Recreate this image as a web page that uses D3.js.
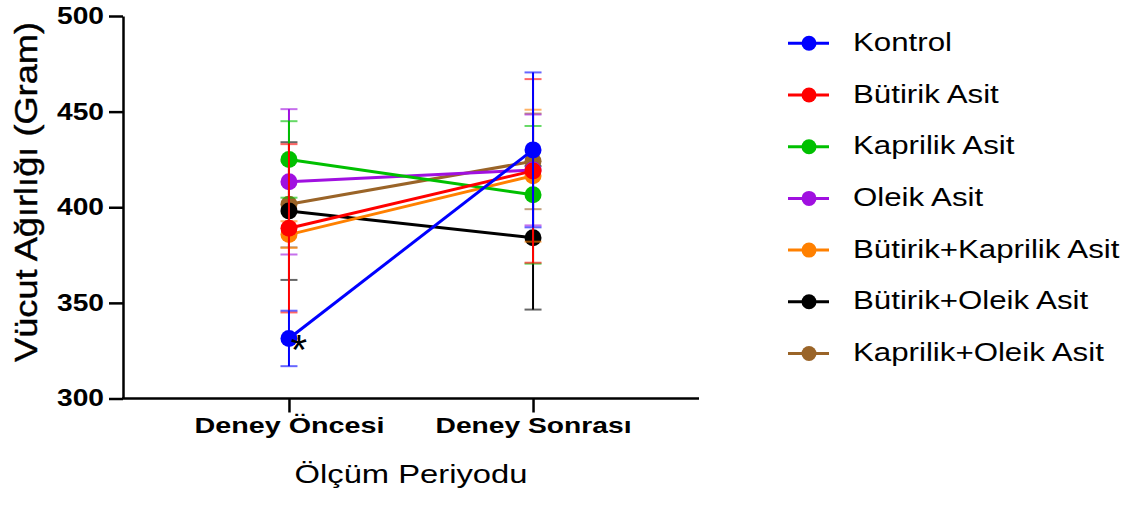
<!DOCTYPE html>
<html>
<head>
<meta charset="utf-8">
<script src="https://cdn.jsdelivr.net/npm/d3@7"></script>
<style>
  body { margin: 0; background: #fff; }
  text { font-family: 'Liberation Sans', Arial, sans-serif; fill: #000; }
</style>
</head>
<body>
<svg id="chart" width="1138" height="508"></svg>
<script>
var categories = ['Deney Öncesi', 'Deney Sonrası']
var groups = ['Kontrol', 'Bütirik Asit', 'Kaprilik Asit', 'Oleik Asit',
  'Bütirik+Kaprilik Asit', 'Bütirik+Oleik Asit', 'Kaprilik+Oleik Asit']
var colors = ['#0000ff', '#ff0000', '#00c000', '#a010e0', '#ff8000', '#000000', '#9a6428']
var means = [
  [331.4, 430],
  [389, 419],
  [425, 406.5],
  [413.3, 419.5],
  [385.7, 416.5],
  [398, 384],
  [401.6, 424]
]
var sds = [
  [14.5, 40.5],
  [44, 48],
  [20, 36],
  [38, 29],
  [7, 34.5],
  [36, 37.5],
  [22.5, 25]
]
var yTicks = [300, 350, 400, 450, 500]

var svg = d3.select('#chart')

var x = d3.scalePoint()
    .domain(categories)
    .range([123, 699])
    .padding(0.68)

var y = d3.scaleLinear()
    .domain([300, 500])
    .range([398.5, 16])

// axes
var yAxis = svg.append('g')
    .attr('transform', 'translate(123,0)')
    .call(d3.axisLeft(y).tickValues(yTicks).tickSize(14).tickPadding(5).tickSizeOuter(0))
yAxis.select('.domain').attr('stroke-width', 2.5)
yAxis.selectAll('.tick line').attr('stroke-width', 2.5)
yAxis.selectAll('.tick text')
    .attr('font-size', 23)
    .attr('font-weight', 'bold')
    .attr('textLength', 47)
    .attr('lengthAdjust', 'spacingAndGlyphs')
    .attr('font-family', "'Liberation Sans', Arial, sans-serif")

var xAxis = svg.append('g')
    .attr('transform', 'translate(0,398.5)')
    .call(d3.axisBottom(x).tickSize(14).tickSizeOuter(0))
xAxis.select('.domain').attr('stroke-width', 2.5)
    .attr('d', 'M122,0H699')
xAxis.selectAll('.tick line').attr('stroke-width', 2.5)
xAxis.selectAll('.tick text')
    .attr('y', 34.5)
    .attr('dy', 0)
    .attr('font-size', 22)
    .attr('font-weight', 'bold')
    .attr('textLength', function (d, i) { return i === 0 ? 190 : 196 })
    .attr('lengthAdjust', 'spacingAndGlyphs')
    .attr('font-family', "'Liberation Sans', Arial, sans-serif")

svg.append('text')
    .attr('x', 411)
    .attr('y', 483)
    .attr('text-anchor', 'middle')
    .attr('font-size', 25)
    .attr('textLength', 233)
    .attr('lengthAdjust', 'spacingAndGlyphs')
    .text('Ölçüm Periyodu')

svg.append('text')
    .attr('transform', 'translate(37,192) rotate(-90)')
    .attr('text-anchor', 'middle')
    .attr('font-size', 32)
    .attr('textLength', 340)
    .attr('lengthAdjust', 'spacingAndGlyphs')
    .style('stroke', '#000')
    .style('stroke-width', 0.4)
    .text('Vücut Ağırlığı (Gram)')

// series, drawn last-to-first so Kontrol sits on top
var line = d3.line()
    .x(function (d, i) { return x(categories[i]) })
    .y(function (d) { return y(d) })

var order = d3.range(groups.length).reverse()
order.forEach(function (s) {
  var g = svg.append('g')
  var c = colors[s]
  means[s].forEach(function (m, i) {
    var cx = x(categories[i])
    var lo = y(m - sds[s][i])
    var hi = y(m + sds[s][i])
    g.append('line')
        .attr('x1', cx).attr('x2', cx)
        .attr('y1', lo).attr('y2', hi)
        .attr('stroke', c)
        .attr('stroke-width', 2)
    ;[lo, hi].forEach(function (yy) {
      g.append('line')
          .attr('x1', cx - 8.5).attr('x2', cx + 8.5)
          .attr('y1', yy).attr('y2', yy)
          .attr('stroke', c)
          .attr('stroke-opacity', 0.6)
          .attr('stroke-width', 2)
    })
  })
  g.append('path')
      .attr('d', line(means[s]))
      .attr('fill', 'none')
      .attr('stroke', c)
      .attr('stroke-width', 3)
  g.selectAll('circle')
      .data(means[s])
      .enter().append('circle')
      .attr('cx', function (d, i) { return x(categories[i]) })
      .attr('cy', function (d) { return y(d) })
      .attr('r', 8.5)
      .attr('fill', c)
})

// significance mark next to the Kontrol pre-test point
svg.append('text')
    .attr('x', x(categories[0]) + 10)
    .attr('y', y(means[0][0]) + 26)
    .attr('text-anchor', 'middle')
    .attr('font-size', 42)
    .text('*')

// legend
var legend = svg.append('g')
    .selectAll('g')
    .data(groups)
    .enter().append('g')
    .attr('transform', function (d, i) { return 'translate(0,' + (43.3 + i * 51.7) + ')' })

legend.append('line')
    .attr('x1', 788).attr('x2', 829)
    .attr('stroke', function (d, i) { return colors[i] })
    .attr('stroke-width', 3)
legend.append('circle')
    .attr('cx', 809)
    .attr('r', 7.5)
    .attr('fill', function (d, i) { return colors[i] })
legend.append('text')
    .attr('transform', 'translate(853,7.5) scale(1.25,1)')
    .attr('font-size', 25)
    .text(function (d) { return d })
</script>
</body>
</html>
